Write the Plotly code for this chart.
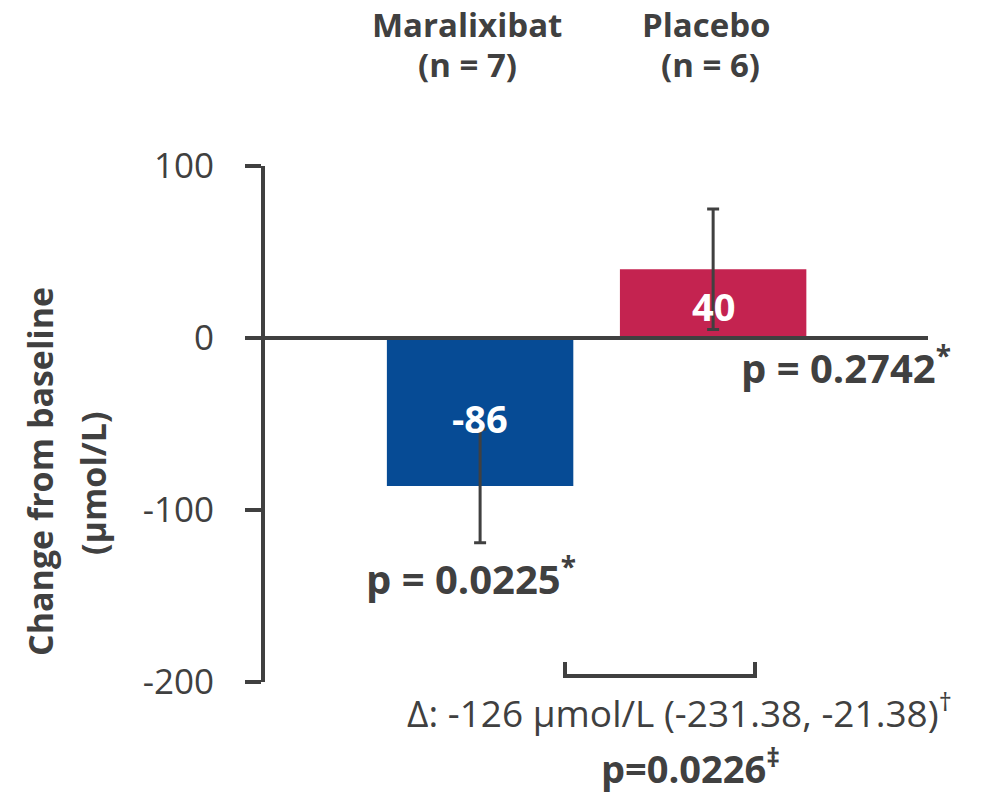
import plotly.graph_objects as go

# ---- data ----
categories = ["Maralixibat", "Placebo"]
group_sizes = ["(n = 7)", "(n = 6)"]
values = [-86, 40]
errors = [33, 35]
value_labels = ["-86", "40"]
p_values = ["p = 0.0225<sup>*</sup>", "p = 0.2742<sup>*</sup>"]
tick_vals = [-200, -100, 0, 100]
tick_text = ["-200", "-100", "0", "100"]
delta_text = "Δ: -126 µmol/L (-231.38, -21.38)<sup>†</sup>"
delta_p = "p=0.0226<sup>‡</sup>"
y_title = ["Change from baseline", "(µmol/L)"]

bar_colors = ["#064B95", "#C42350"]
ink = "#404040"
FONT = "Open Sans"

W, H = 989, 795
L, R, T, B = 265, 61, 166, 113
PW, PH = W - L - R, H - T - B


def px(x):
    return (x - L) / PW


def py(y):
    return (H - B - y) / PH


fig = go.Figure()
fig.add_trace(go.Bar(
    x=[0, 1], y=values, width=0.8,
    marker=dict(color=bar_colors, line=dict(width=0)),
    error_y=dict(type="data", array=errors, visible=True,
                 color=ink, thickness=3, width=6),
    hoverinfo="skip",
))

# zero line above bars
fig.add_shape(type="line", xref="paper", yref="y", x0=0, x1=1, y0=0, y1=0,
              line=dict(color=ink, width=4), layer="above")

# bracket between bars
bx0, bx1, by0, by1 = px(565), px(755), py(662), py(676)
fig.add_shape(type="path", xref="paper", yref="paper",
              path=f"M {bx0} {by0} L {bx0} {by1} L {bx1} {by1} L {bx1} {by0}",
              line=dict(color=ink, width=4), layer="above")

ann = []


def note(x, y, text, size, color=ink, **kw):
    d = dict(x=x, y=y, xref="paper", yref="paper", text=text, showarrow=False,
             xanchor="center", yanchor="middle",
             font=dict(family=FONT, size=size, color=color))
    d.update(kw)
    ann.append(d)


# value labels inside bars
for i, v in enumerate(values):
    ann.append(dict(x=i, y=v / 2, xref="x", yref="y", text=f"<b>{value_labels[i]}</b>",
                    showarrow=False, xanchor="center", yanchor="middle",
                    font=dict(family=FONT, size=38, color="white"),
                    yshift=-6 if v < 0 else -2))

# top category labels
top_x = [467, 706]
top_x2 = [467, 710]
for i, c in enumerate(categories):
    note(px(top_x[i]), py(25), f"<b>{c}</b>", 33)
    note(px(top_x2[i]), py(64), f"<b>{group_sizes[i]}</b>", 33)

# p-values
p_pos = [(471, 576), (846, 365)]
for i, t in enumerate(p_values):
    note(px(p_pos[i][0]), py(p_pos[i][1]), f"<b>{t}</b>", 40)

note(px(679), py(710), delta_text, 37)
note(px(690), py(766), f"<b>{delta_p}</b>", 38)

# y title (two lines)
note(px(40), py(472), f"<b>{y_title[0]}</b>", 34, textangle=-90)
note(px(93), py(483), f"<b>{y_title[1]}</b>", 34, textangle=-90)

fig.update_layout(
    width=W, height=H,
    margin=dict(l=L, r=R, t=T, b=B, pad=0),
    paper_bgcolor="white", plot_bgcolor="white",
    showlegend=False,
    annotations=ann,
    xaxis=dict(range=[-0.923, 1.922], visible=False, fixedrange=True),
    yaxis=dict(range=[-200, 100], tickvals=tick_vals, ticktext=tick_text,
               showgrid=False, zeroline=False, showline=True, linecolor=ink, linewidth=4,
               ticks="outside", ticklen=16, tickwidth=4, tickcolor=ink,
               ticklabelstandoff=24,
               tickfont=dict(family=FONT, size=35, color=ink), fixedrange=True),
)

fig.write_html("out.html", config={"displayModeBar": False})
